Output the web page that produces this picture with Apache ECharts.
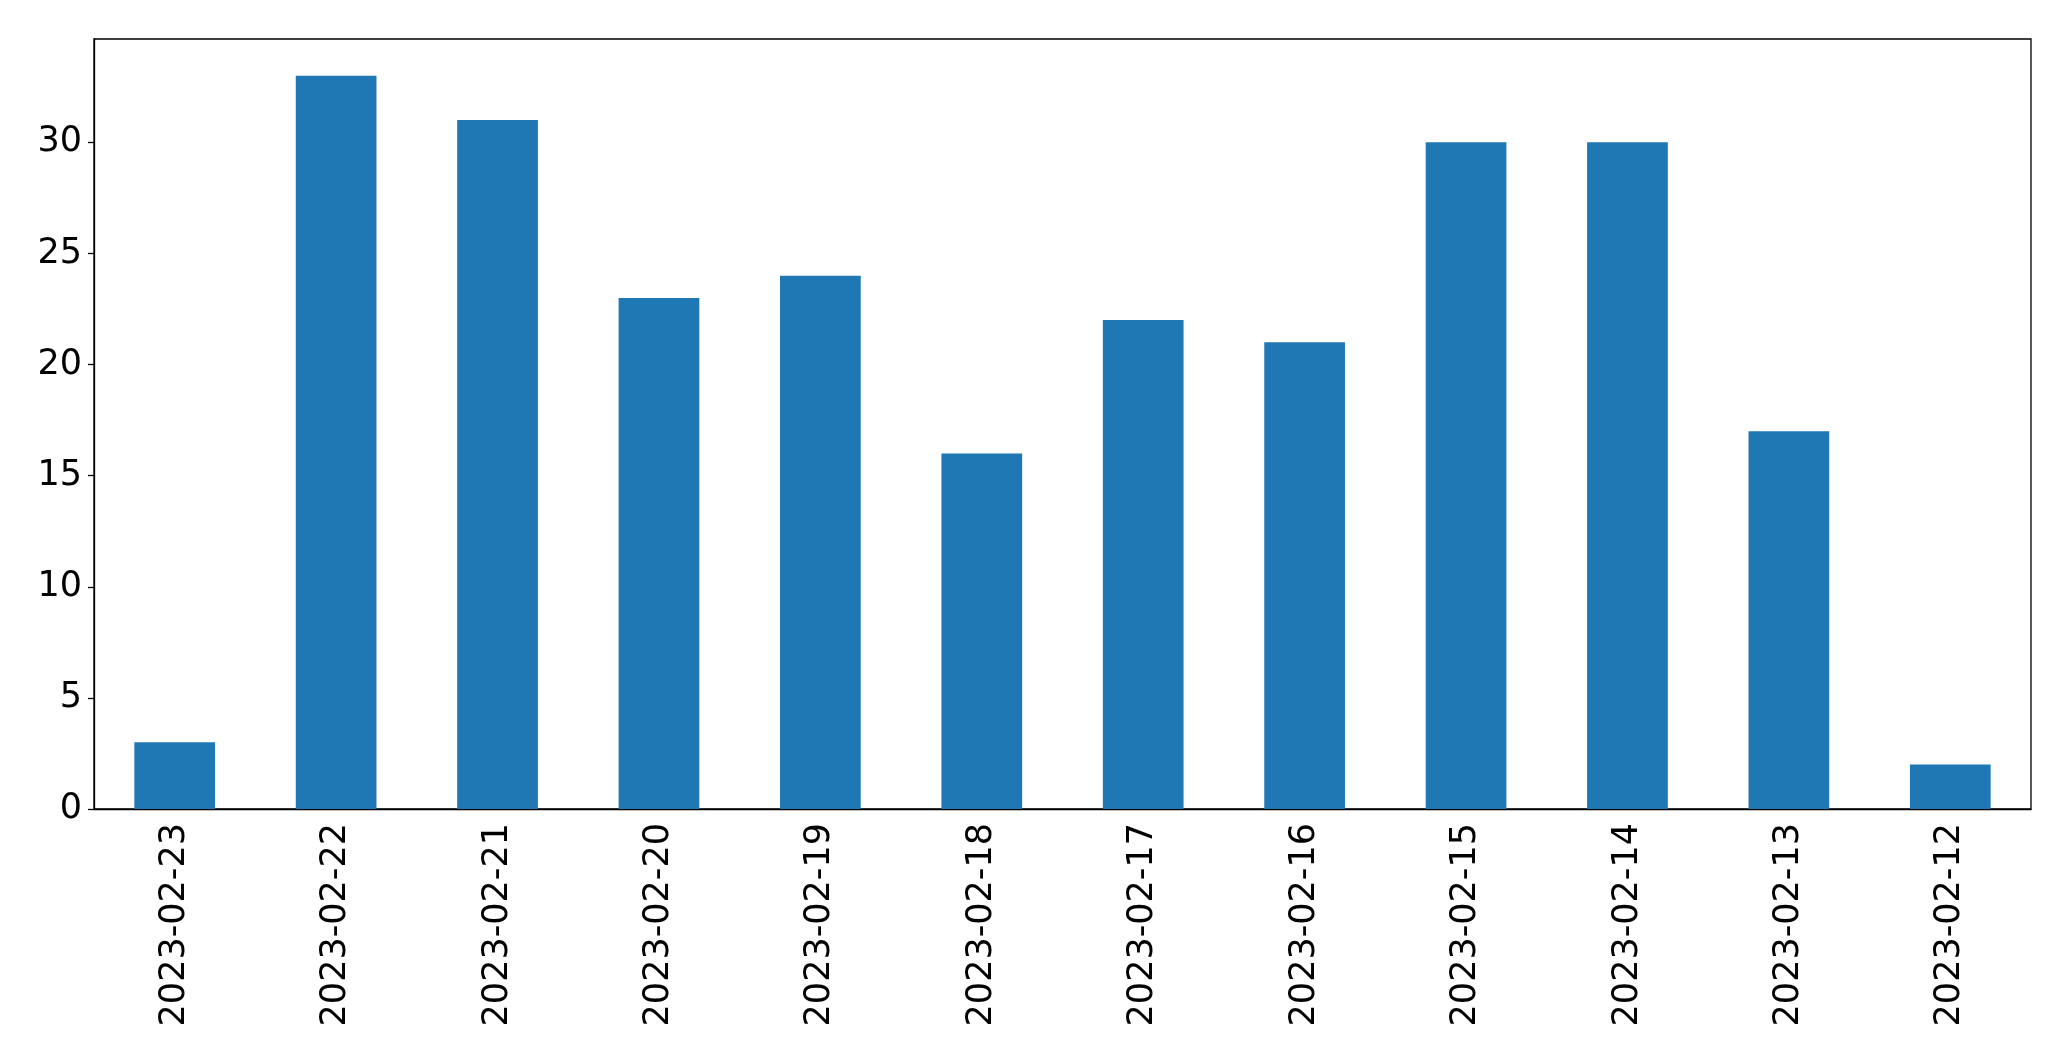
<!DOCTYPE html>
<html><head><meta charset="utf-8">
<script src="https://cdn.jsdelivr.net/npm/echarts@6/dist/echarts.min.js"></script>
<style>html,body{margin:0;padding:0;background:#fff}#c{width:2071px;height:1061px}</style>
</head><body><div id="c"></div>
<script>
const categories = ["2023-02-23","2023-02-22","2023-02-21","2023-02-20","2023-02-19","2023-02-18","2023-02-17","2023-02-16","2023-02-15","2023-02-14","2023-02-13","2023-02-12"];
const values = [3,33,31,23,24,16,22,21,30,30,17,2];
const yMax = 34.65;
const chart = echarts.init(document.getElementById('c'), null, {renderer:'canvas'});
const font = 'DejaVu Sans';
chart.setOption({
  animation:false,
  backgroundColor:'#fff',
  grid:{left:94,top:39,width:1937,height:770,show:true,borderColor:'#000',borderWidth:1.3,backgroundColor:'transparent'},
  xAxis:{type:'category',data:categories,boundaryGap:true,
    axisLine:{lineStyle:{color:'#000',width:1.3}},
    axisTick:{alignWithLabel:true,length:6,lineStyle:{color:'#000',width:1.3}},
    axisLabel:{rotate:90,fontFamily:font,fontSize:35,color:'#000',margin:14,interval:0},
    splitLine:{show:false}},
  yAxis:{type:'value',min:0,max:yMax,interval:5,
    axisLine:{show:true,lineStyle:{color:'#000',width:1.3}},
    axisTick:{show:true,length:6,lineStyle:{color:'#000',width:1.3}},
    axisLabel:{fontFamily:font,fontSize:35,color:'#000',margin:12,showMaxLabel:false},
    splitLine:{show:false}},
  series:[{type:'bar',data:values,barWidth:'50%',itemStyle:{color:'#1f77b4'}}]
});
</script></body></html>
